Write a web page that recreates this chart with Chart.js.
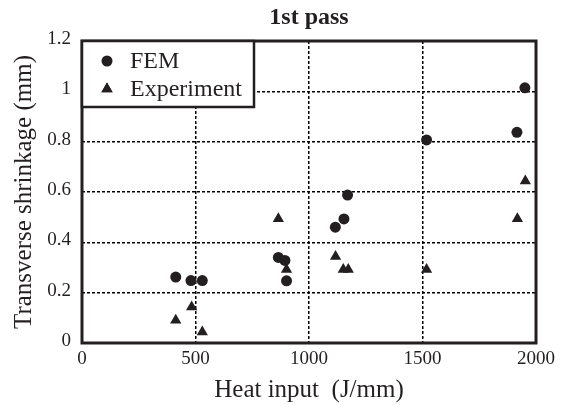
<!DOCTYPE html>
<html lang="en">
<head>
    <meta charset="UTF-8">
    <title>1st pass</title>
    <script src="https://cdn.jsdelivr.net/npm/chart.js"></script>
    <style>
        html, body { margin: 0; padding: 0; background: #fff; }
        #wrap { width: 563px; height: 405px; }
    </style>
</head>
<body>
    <div id="wrap"><canvas id="shrinkChart"></canvas></div>
    <script>
        // values
        const femX = [413, 480, 530, 865, 894, 901, 1116, 1154, 1170, 1518, 1916, 1951];
        const femY = [0.262, 0.248, 0.248, 0.34, 0.328, 0.247, 0.46, 0.493, 0.588, 0.807, 0.837, 1.014];
        const expX = [413, 483, 530, 865, 901, 1117, 1151, 1173, 1518, 1918, 1953];
        const expY = [0.09, 0.143, 0.044, 0.494, 0.292, 0.344, 0.292, 0.292, 0.292, 0.494, 0.644];
        const xTicks = [0, 500, 1000, 1500, 2000];
        const yTicks = [0, 0.2, 0.4, 0.6, 0.8, 1, 1.2];
        const seriesLabels = ['FEM', 'Experiment'];

        const ink = '#231f20';
        const serif = "'Liberation Serif', 'Times New Roman', serif";

        const toPoints = (xs, ys) => xs.map((x, i) => ({ x: x, y: ys[i] }));

        // edge grid lines are covered by the frame
        const gridColor = (max) => (ctx) => (ctx.tick && (ctx.tick.value === 0 || ctx.tick.value === max)) ? 'rgba(0,0,0,0)' : '#000';

        // frame round the plot + legend box inside the top-left corner
        const framePlugin = {
            id: 'frame',
            afterDatasetsDraw(chart) {
                const { ctx, chartArea: a } = chart;
                ctx.save();
                ctx.strokeStyle = ink;
                ctx.lineWidth = 3;
                ctx.strokeRect(a.left, a.top, a.right - a.left, a.bottom - a.top);

                const bx = a.left, by = a.top, bw = 172, bh = 66;
                ctx.fillStyle = '#fff';
                ctx.fillRect(bx, by, bw, bh);
                ctx.lineWidth = 2.5;
                ctx.strokeRect(bx, by, bw, bh);

                chart.data.datasets.forEach((ds, i) => {
                    const cy = by + 20 + i * 28;
                    Chart.helpers.drawPoint(ctx, {
                        pointStyle: ds.pointStyle,
                        radius: ds.pointRadius,
                        rotation: 0,
                        borderWidth: 0
                    }, bx + 25, cy);
                    ctx.fillStyle = ink;
                    ctx.fill();
                    ctx.font = '24px ' + serif;
                    ctx.textBaseline = 'middle';
                    ctx.textAlign = 'left';
                    ctx.fillText(ds.label, bx + 48, cy + 1);
                });
                ctx.restore();
            }
        };

        const data = {
            datasets: [{
                label: seriesLabels[0],
                data: toPoints(femX, femY),
                pointStyle: 'circle',
                pointRadius: 5.5,
                pointBorderWidth: 0,
                backgroundColor: ink,
                borderColor: ink
            }, {
                label: seriesLabels[1],
                data: toPoints(expX, expY),
                pointStyle: 'triangle',
                pointRadius: 6.5,
                pointBorderWidth: 0,
                backgroundColor: ink,
                borderColor: ink
            }]
        };

        const config = {
            type: 'scatter',
            data: data,
            plugins: [framePlugin],
            options: {
                responsive: true,
                maintainAspectRatio: false,
                animation: false,
                layout: { padding: { left: 0, right: 27, top: 0, bottom: 0 } },
                plugins: {
                    legend: { display: false },
                    tooltip: { enabled: false },
                    title: {
                        display: true,
                        text: '1st pass',
                        fullSize: false,
                        color: ink,
                        font: { family: serif, size: 24, weight: 'bold' },
                        padding: { top: 3, bottom: 9.2 }
                    }
                },
                scales: {
                    x: {
                        type: 'linear',
                        min: 0,
                        max: 2000,
                        afterBuildTicks: (s) => { s.ticks = xTicks.map(v => ({ value: v })); },
                        afterFit: (s) => { s.height = 62; },
                        grid: { color: gridColor(2000), lineWidth: 1.5, drawTicks: false },
                        border: { display: false, dash: [3, 2] },
                        ticks: {
                            color: ink,
                            padding: 5,
                            font: { family: serif, size: 19 },
                            callback: (v) => String(v)
                        },
                        title: {
                            display: true,
                            text: 'Heat input  (J/mm)',
                            color: ink,
                            font: { family: serif, size: 25 },
                            padding: { top: 0, bottom: 0 }
                        }
                    },
                    y: {
                        type: 'linear',
                        min: 0,
                        max: 1.2,
                        afterBuildTicks: (s) => { s.ticks = yTicks.map(v => ({ value: v })); },
                        afterFit: (s) => { s.width = 82; },
                        grid: { color: gridColor(1.2), lineWidth: 1.5, drawTicks: false },
                        border: { display: false, dash: [3, 2] },
                        ticks: {
                            color: ink,
                            padding: 11,
                            labelOffset: -2,
                            font: { family: serif, size: 19 },
                            callback: (v) => String(v)
                        },
                        title: {
                            display: true,
                            text: 'Transverse shrinkage (mm)',
                            color: ink,
                            font: { family: serif, size: 25 },
                            padding: { top: 9, bottom: 0 }
                        }
                    }
                }
            }
        };

        const shrinkChart = new Chart(document.getElementById('shrinkChart'), config);
    </script>
</body>
</html>
